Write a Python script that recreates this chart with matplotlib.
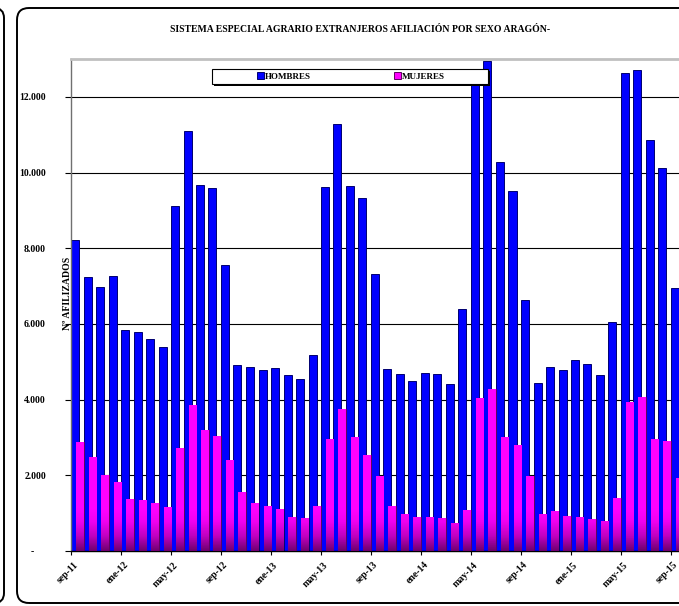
import matplotlib
matplotlib.use("Agg")
import matplotlib.pyplot as plt
import numpy as np
from matplotlib.patches import FancyBboxPatch, Rectangle
from matplotlib.colors import LinearSegmentedColormap
from matplotlib.transforms import IdentityTransform, ScaledTranslation

plt.rcParams["font.family"] = ["Liberation Serif", "DejaVu Serif"]
plt.rcParams["font.weight"] = "bold"

# monthly categories sep-11 .. sep-15
meses = ["ene", "feb", "mar", "abr", "may", "jun", "jul", "ago", "sep", "oct", "nov", "dic"]
categorias = [f"{meses[(8 + k) % 12]}-{11 + (8 + k) // 12}" for k in range(49)]

hombres = [8230, 7240, 6970, 7270, 5830, 5790, 5610, 5400, 9120, 11100, 9680, 9600,
           7560, 4920, 4850, 4790, 4840, 4660, 4540, 5170, 9630, 11280, 9650, 9320,
           7320, 4810, 4680, 4500, 4700, 4690, 4400, 6400, 12600, 12950, 10270, 9520,
           6640, 4450, 4870, 4790, 5040, 4930, 4660, 6060, 12640, 12710, 10860, 10130,
           6950]
mujeres = [2880, 2490, 2020, 1810, 1370, 1350, 1260, 1150, 2710, 3870, 3210, 3050,
           2400, 1560, 1260, 1190, 1110, 910, 870, 1190, 2960, 3760, 3020, 2540,
           1980, 1190, 980, 890, 890, 870, 730, 1090, 4050, 4290, 3020, 2790,
           1990, 990, 1060, 930, 890, 840, 780, 1390, 3930, 4060, 2960, 2900,
           1930]

y_ticks = [0, 2000, 4000, 6000, 8000, 10000, 12000]
y_labels = ["-", "2.000", "4.000", "6.000", "8.000", "10.000", "12.000"]
x_tick_idx = list(range(0, 49, 4))

W, H = 679, 606


def fx(px):
    return px / W


def fy(py):
    return 1 - py / H


fig = plt.figure(figsize=(W / 100, H / 100), dpi=100)
fig.patch.set_facecolor("white")

# plot area (runs past the right edge of the picture, as in the original)
ax = fig.add_axes([fx(71), fy(551), 12.5 * 49 / W, (551 - 59) / H])

x = np.arange(len(categorias))
b_h = ax.bar(x, hombres, width=0.64, align="edge", color="#0000FF",
             edgecolor="#000070", linewidth=0.7, label="HOMBRES", zorder=2)
b_m = ax.bar(x + 0.4, mujeres, width=0.6, align="edge", color="#FF00FF",
             edgecolor="#600060", linewidth=0.7, label="MUJERES", zorder=3)

# darkening towards the base of the pink bars
cmap = LinearSegmentedColormap.from_list(
    "mag", [(0, "#700070"), (0.35, "#c000c0"), (0.7, "#f000f0"), (1, "#FF00FF")])
for r in b_m.patches:
    x0, w, h = r.get_x(), r.get_width(), r.get_height()
    grad = np.linspace(0, h, 80)[:, None]
    im = ax.imshow(grad, extent=(x0, x0 + w, 0, h), aspect="auto", origin="lower",
                   cmap=cmap, vmin=0, vmax=1100, zorder=3.1)
    im.set_clip_path(r)

ax.set_xlim(0, 49)
ax.set_ylim(0, 13000)

ax.set_yticks(y_ticks)
ax.set_yticklabels(y_labels, fontsize=7, fontweight="bold")
ax.tick_params(axis="y", direction="out", length=4, width=0.8, pad=14)
ax.yaxis.grid(True, color="black", linewidth=0.8)
ax.set_axisbelow(True)

ax.set_xticks(x_tick_idx)
ax.set_xticklabels([categorias[i] for i in x_tick_idx], fontsize=7, fontweight="bold",
                   rotation=45, ha="right", va="center", rotation_mode="anchor")
ax.tick_params(axis="x", direction="out", length=3, width=0.8, pad=6)
off = ScaledTranslation(4 / 72, 0, fig.dpi_scale_trans)
for lab in ax.get_xticklabels():
    lab.set_transform(lab.get_transform() + off)
zero_lab = ax.get_yticklabels()[0]
zero_lab.set_transform(zero_lab.get_transform() + ScaledTranslation(-9 / 72, 0, fig.dpi_scale_trans))

ax.spines["right"].set_visible(False)
ax.spines["top"].set_color("#c0c0c0")
ax.spines["top"].set_linewidth(2)
ax.spines["left"].set_color("#707070")
ax.spines["left"].set_linewidth(1)
ax.spines["bottom"].set_color("black")
ax.spines["bottom"].set_linewidth(1)

# chart borders (this one and the neighbouring chart on the left)
fig.patches.append(FancyBboxPatch((17, 3), 900, 595, boxstyle="round,pad=0,rounding_size=12",
                                  transform=IdentityTransform(), fill=False,
                                  edgecolor="black", linewidth=1.4))
fig.patches.append(FancyBboxPatch((-300, 3), 304, 595, boxstyle="round,pad=0,rounding_size=10",
                                  transform=IdentityTransform(), fill=False,
                                  edgecolor="black", linewidth=1.4))

fig.text(fx(360), fy(29), "SISTEMA ESPECIAL AGRARIO EXTRANJEROS AFILIACIÓN POR SEXO ARAGÓN-",
         ha="center", va="center", fontsize=7, fontweight="bold")
fig.text(fx(68), fy(293), "Nº AFILIZADOS", rotation=90, ha="center", va="center",
         fontsize=7, fontweight="bold")

# legend box with shadow
fig.patches.append(Rectangle((fx(214), fy(86)), fx(488) - fx(212), fy(69) - fy(84),
                             transform=fig.transFigure, facecolor="black", edgecolor="none", zorder=4))
fig.patches.append(Rectangle((fx(212), fy(84)), fx(488) - fx(212), fy(69) - fy(84),
                             transform=fig.transFigure, facecolor="white", edgecolor="black",
                             linewidth=0.8, zorder=4.5))
fig.legend(handles=[b_h, b_m], loc="center", bbox_to_anchor=(fx(351), fy(76.5)),
           ncol=2, frameon=False, fontsize=6.5, handlelength=0.7, handleheight=0.8,
           handletextpad=0.1, columnspacing=9.3, borderpad=0)

fig.savefig("out.png", dpi=100)
